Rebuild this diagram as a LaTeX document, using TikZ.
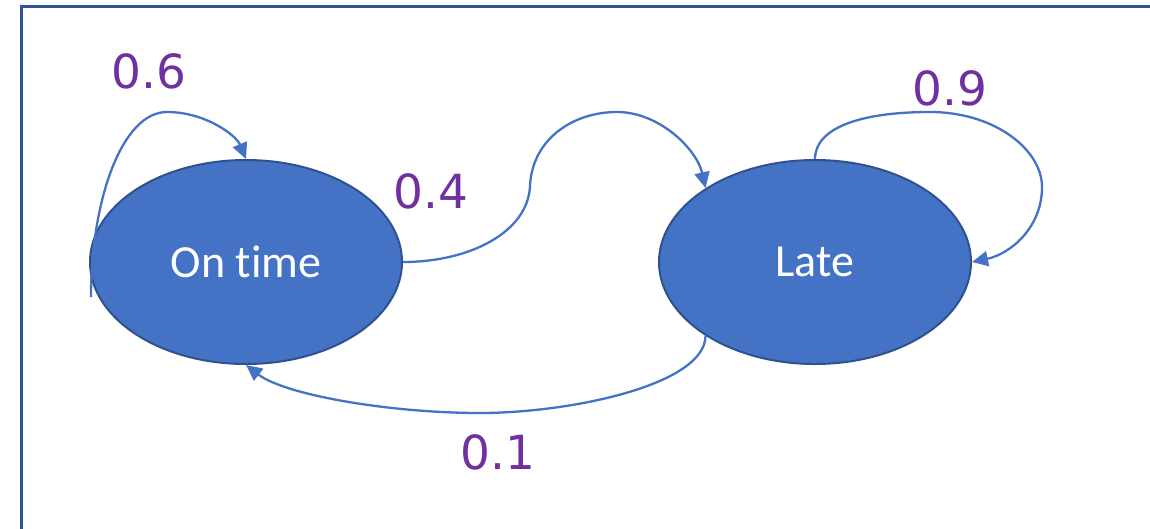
\documentclass[tikz,border=0pt]{standalone}
\usepackage{fontspec}
\setmainfont{Carlito}[RawFeature={-liga;-clig;-dlig}]
\newfontfamily\labelfont{DejaVu Sans}
\usetikzlibrary{arrows.meta,shapes.geometric}
\definecolor{nodefill}{HTML}{4472C4}
\definecolor{nodeline}{HTML}{2F528F}
\definecolor{edgecol}{HTML}{4472C4}
\definecolor{labcol}{HTML}{7030A0}
\definecolor{framecol}{HTML}{2F5597}
\begin{document}
\begin{tikzpicture}[x=1pt,y=-1pt,
  state/.style={ellipse, draw=nodeline, line width=2pt, fill=nodefill,
    minimum width=312pt, minimum height=204pt, inner sep=0pt, text=white,
    font=\fontsize{46}{50}\selectfont},
  edge/.style={draw=edgecol, line width=2.3pt, -{Triangle[length=16pt,width=15pt]}},
  prob/.style={text=labcol, font=\labelfont\fontsize{47}{52}\selectfont, inner sep=0pt}]
\useasboundingbox (0,0) rectangle (1150,528);
\draw[framecol, line width=3pt] (21,540) -- (21,6) -- (1160,6);
\node[state] (ot) at (246,262) {On time};
\node[state] (lt) at (815,262) {Late};
\coordinate (s6) at (91,297);
% self loop on time
\draw[edge] (s6) .. controls (91,200) and (122,112) .. (167,112)
  .. controls (205,112) and (236,135) .. (ot.north);
% on time -> late
\draw[edge] (ot.east) .. controls (470,262) and (528,232) .. (530,186)
  .. controls (532,140) and (572,112) .. (617,112)
  .. controls (660,112) and (697,150) .. (lt.146);
% self loop late
\draw[edge] (lt.north) .. controls (815,128) and (860,112) .. (930,112)
  .. controls (995,112) and (1042,150) .. (1042,187)
  .. controls (1042,228) and (1010,254) .. (lt.east);
% late -> on time
\draw[edge] (lt.214) .. controls (705,385) and (570,413) .. (480,413)
  .. controls (390,413) and (285,395) .. (ot.south);
\node[prob] (p6) at (149,71) {0.6};
\node[prob] (p4) at (431,191) {0.4};
\node[prob] (p9) at (950,88) {0.9};
\node[prob] (p1) at (498,452) {0.1};
\end{tikzpicture}
\end{document}
